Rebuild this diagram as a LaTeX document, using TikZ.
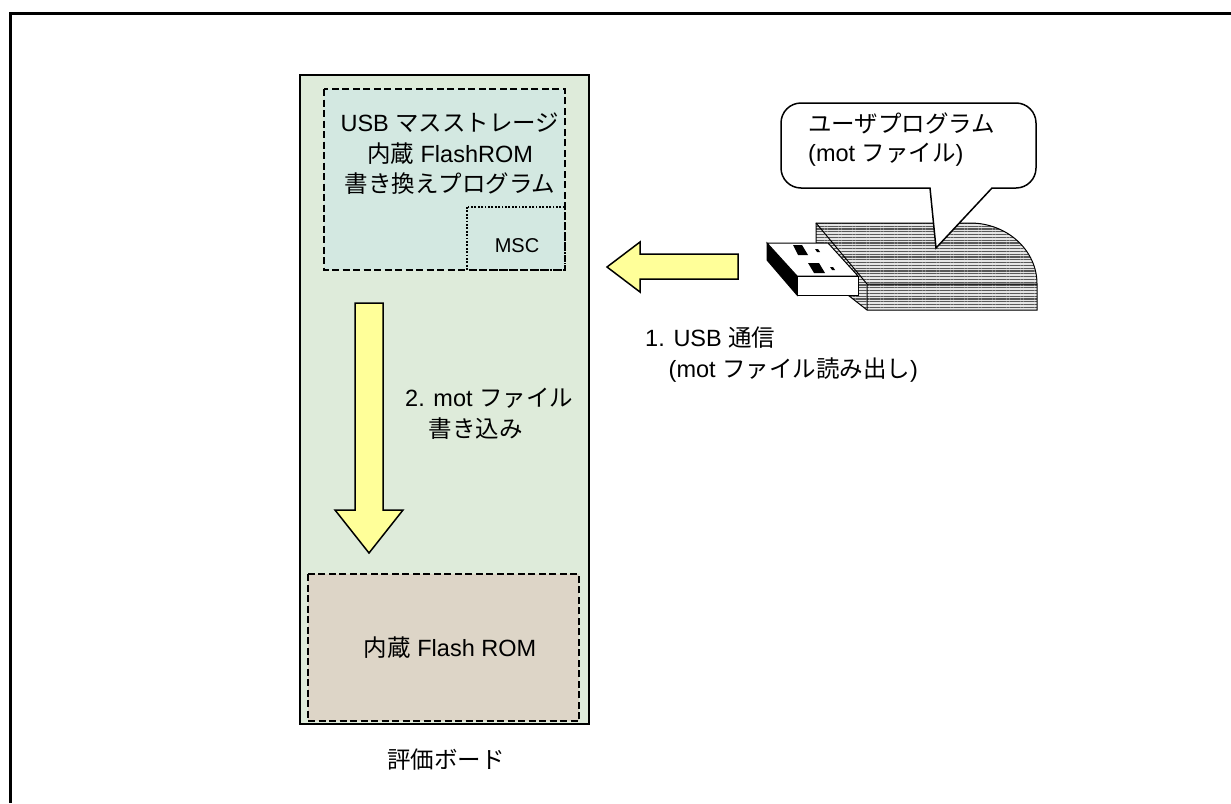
\documentclass[tikz,border=0pt]{standalone}
\usepackage{fontspec}
\setmainfont{Liberation Sans}
\newfontfamily\jp{Noto Sans CJK JP}
\usetikzlibrary{patterns.meta}
\definecolor{boardgreen}{HTML}{DEEBDA}
\definecolor{progblue}{HTML}{D3E8E1}
\definecolor{romtan}{HTML}{DDD5C7}
\definecolor{arrowyellow}{HTML}{FFFF99}
\tikzset{
  txt/.style={inner sep=0pt, font=\fontsize{23.5}{30.5}\selectfont},
  dashbox/.style={line width=1.8pt, dash pattern=on 7pt off 3.5pt},
  dotbox/.style={line width=1.8pt, dash pattern=on 1.8pt off 1.6pt},
  bigarrow/.style={fill=arrowyellow, draw=black, line width=1.5pt, line join=miter},
  stickbody/.style={draw=black, line width=1pt, preaction={fill=gray!20},
    pattern={Lines[angle=0,distance=2.8pt,line width=1.1pt]}, pattern color=black!65},
  callout/.style={draw=black, fill=white, line width=1.5pt}
}
\begin{document}
\begin{tikzpicture}[x=1pt,y=-1pt]
  \useasboundingbox (0,0) rectangle (1231,803);
  \draw [line width=3pt] (1231,13) -- (10,13) -- (10,803);

  % board with its two memory areas
  \draw [fill=boardgreen, line width=2pt] (300,75) rectangle (589,724);
  \draw [dashbox, fill=progblue] (324,89) rectangle (565,270);
  \draw [dotbox] (467,207) rectangle (565,270);
  \draw [dashbox, fill=romtan] (308,574) rectangle (579,721);

  \node [txt, anchor=north, align=center] (prog) at (450,113)
    {USB {\jp マスストレージ}\\{\jp 内蔵} FlashROM\\{\jp 書き換えプログラム}};
  \node [txt, anchor=base, font=\fontsize{20}{24}\selectfont] (msc) at (517,252) {MSC};
  \node [txt, anchor=base] (rom) at (450,656) {{\jp 内蔵} Flash ROM};
  \node [txt, anchor=base] (board) at (446,768) {\jp 評価ボード};

  % transfer arrows
  \draw [bigarrow] (355,303) -- (383,303) -- (383,510) -- (403,510) -- (369,553)
    -- (335,510) -- (355,510) -- cycle;
  \draw [bigarrow] (738,254) -- (738,279) -- (640,279) -- (640,292) -- (607,267)
    -- (640,242) -- (640,254) -- cycle;

  \node [txt, anchor=north west, align=left] (write) at (405,388)
    {2. mot {\jp ファイル}\\\hspace*{1em}{\jp 書き込み}};
  \node [txt, anchor=north west, align=left] (read) at (645,327)
    {1. USB {\jp 通信}\\\hspace*{1em}(mot {\jp ファイル読み出し})};

  % usb stick
  \draw [stickbody] (816,223) -- (970,223) .. controls (1007,223) and (1037,250) .. (1037,284)
    -- (1037,310) -- (867,310) -- (816,270) -- cycle;
  \draw [line width=1pt] (816,223) -- (867,284) -- (1037,284) (867,284) -- (867,310);
  \filldraw [line width=1pt] (767,243) -- (797,276) -- (797,295) -- (767,260) -- cycle;
  \draw [fill=white, line width=1pt] (767,243) -- (828,243) -- (858,276) -- (797,276) -- cycle;
  \draw [fill=white, line width=1pt] (797,276) rectangle (858,295);
  \fill (793,245) -- (802,245) -- (808,255) -- (798,255) -- cycle;
  \fill (815,249) -- (818,249) -- (820,252) -- (817,252) -- cycle;
  \fill (808,263) -- (819,263) -- (825,273) -- (814,273) -- cycle;
  \fill (830,267) -- (833,267) -- (835,270) -- (832,270) -- cycle;

  % speech bubble
  \draw [callout] (936,248) -- (930,188) [rounded corners=20pt] -- (781,188) -- (781,103)
    -- (1036,103) -- (1036,188) [sharp corners] -- (992,188) -- cycle;
  \node [txt, anchor=north west, align=left, font=\fontsize{23.5}{29}\selectfont] (user) at (808,113)
    {{\jp ユーザプログラム}\\(mot {\jp ファイル})};
\end{tikzpicture}
\end{document}
